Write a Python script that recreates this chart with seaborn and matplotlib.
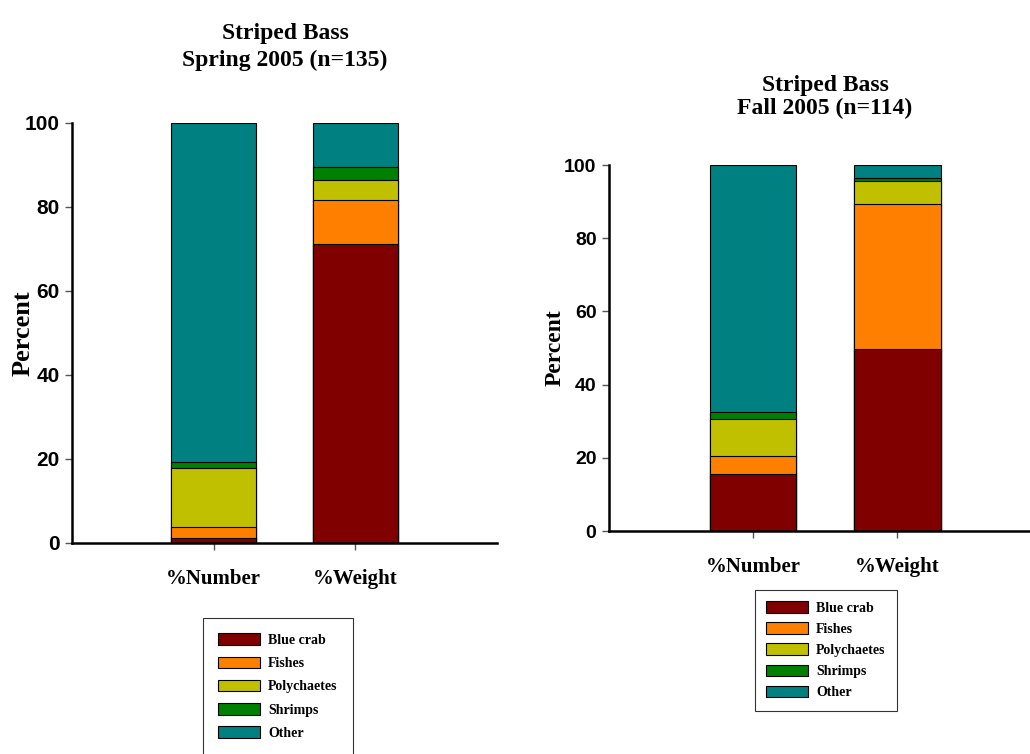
import matplotlib
matplotlib.use("Agg")
import matplotlib.pyplot as plt
from matplotlib.patches import Patch
import seaborn as sns
import pandas as pd
import numpy as np

# Diet composition of striped bass (percent by number and by weight)
categories = ["%Number", "%Weight"]
prey = ["Blue crab", "Fishes", "Polychaetes", "Shrimps", "Other"]
colors = ["#800000", "#FF8000", "#C0C000", "#008000", "#008080"]

spring_number = [1.2, 2.5, 14.2, 1.4, 80.7]
spring_weight = [71.3, 10.4, 4.8, 3.0, 10.5]
fall_number = [15.7, 4.9, 10.0, 1.8, 67.6]
fall_weight = [49.7, 39.6, 6.3, 0.8, 3.6]

sns.set_theme(style="white")
plt.rcParams["font.family"] = ["Liberation Serif", "DejaVu Serif"]
plt.rcParams.update({"text.color": "black", "axes.labelcolor": "black",
                     "xtick.color": "#555555", "ytick.color": "#555555"})

serif = "Liberation Serif"
sans = "Liberation Sans"

fig = plt.figure(figsize=(10.3, 7.54), dpi=100)


def stacked(ax, number, weight, xmax, tick_size, label_size, xt_size):
    df = pd.DataFrame({"category": categories * len(prey),
                       "prey": np.repeat(prey, 2),
                       "value": np.ravel(np.column_stack([number, weight]))})
    wide = df.pivot(index="category", columns="prey", values="value")[prey].loc[categories]
    cum = wide.cumsum(axis=1)
    # draw the tallest cumulative layer first, then overdraw the lower ones
    for name, col in reversed(list(zip(prey, colors))):
        sns.barplot(x=categories, y=cum[name].values, order=categories, ax=ax,
                    color=col, width=0.6, edgecolor="black", linewidth=0.8,
                    saturation=1)
    ax.set_xlim(-1.0, xmax)
    ax.set_ylim(0, 100)
    ax.set_yticks([0, 20, 40, 60, 80, 100])
    ax.set_yticklabels(["0", "20", "40", "60", "80", "100"],
                       fontfamily=sans, fontweight="bold", fontsize=tick_size,
                       color="black")
    ax.set_xticks([0, 1])
    ax.set_xticklabels(categories, fontfamily=serif, fontweight="bold",
                       fontsize=xt_size, color="black")
    ax.tick_params(axis="both", which="both", direction="out", length=5, width=1,
                   left=True, bottom=True, pad=4)
    ax.tick_params(axis="x", pad=14)
    ax.set_xlabel("")
    ax.set_ylabel("Percent", fontfamily=serif, fontweight="bold", fontsize=label_size,
                  labelpad=2, color="black")
    for s in ["top", "right"]:
        ax.spines[s].set_visible(False)
    for s in ["left", "bottom"]:
        ax.spines[s].set_color("black")
        ax.spines[s].set_linewidth(1.8)


ax1 = fig.add_axes([72 / 1030, 1 - 543 / 754, 425 / 1030, 420 / 754])
stacked(ax1, spring_number, spring_weight, 2.0, 15, 19, 15)
ax1.yaxis.set_label_coords(-0.088, 0.5)

ax2 = fig.add_axes([609 / 1030, 1 - 531 / 754, 421 / 1030, 366 / 754])
stacked(ax2, fall_number, fall_weight, 1.92, 14, 17, 15)
ax2.yaxis.set_label_coords(-0.102, 0.5)

fig.text(285 / 1030, 1 - 47 / 754, "Striped Bass\nSpring 2005 (n=135)",
         ha="center", va="center", fontfamily=serif, fontweight="bold",
         fontsize=17, linespacing=1.35)
fig.text(825 / 1030, 1 - 97 / 754, "Striped Bass\nFall 2005 (n=114)",
         ha="center", va="center", fontfamily=serif, fontweight="bold",
         fontsize=17, linespacing=1.15)

handles = [Patch(facecolor=c, edgecolor="black", linewidth=0.8) for c in colors]


def add_legend(x0, y0, spacing, pad):
    leg = fig.legend(handles, prey, loc="upper left",
                     bbox_to_anchor=(x0 / 1030, 1 - y0 / 754),
                     prop={"family": serif, "weight": "bold", "size": 10},
                     frameon=True, fancybox=False, edgecolor="black",
                     handlelength=3.0, handleheight=0.9, labelspacing=spacing,
                     borderpad=pad, handletextpad=0.6, borderaxespad=0)
    leg.get_frame().set_linewidth(0.8)
    return leg


add_legend(203, 618, 0.7, 1.1)
add_legend(755, 590, 0.55, 0.8)

fig.savefig("out.png", dpi=100)
